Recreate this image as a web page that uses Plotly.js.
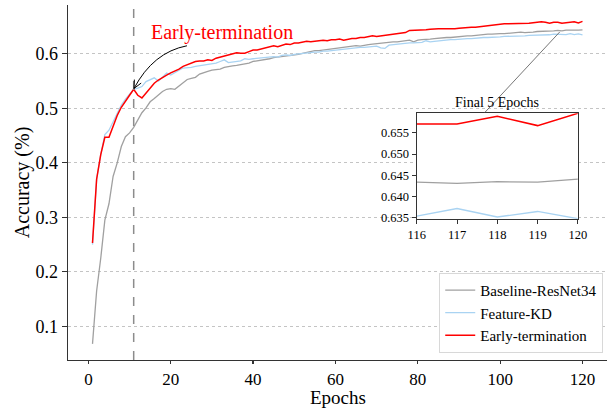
<!DOCTYPE html>
<html>
<head>
<meta charset="utf-8">
<script src="https://cdn.plot.ly/plotly-3.0.1.min.js"></script>
<style>html,body{margin:0;padding:0;background:#fff;}</style>
</head>
<body>
<div id="chart" style="width:611px;height:410px;"></div>
<script>
// Epochs 1..120
const epochs = Array.from({length: 120}, (_, i) => i + 1);

const baseline = [
0.068,0.165,0.225,0.295,0.325,0.375,0.400,0.430,0.448,0.455,
0.465,0.480,0.492,0.501,0.512,0.518,0.525,0.531,0.535,0.536,
0.535,0.541,0.548,0.553,0.555,0.557,0.563,0.566,0.568,0.570,
0.571,0.572,0.575,0.577,0.578,0.579,0.580,0.581,0.583,0.586,
0.587,0.588,0.590,0.591,0.593,0.594,0.594,0.595,0.596,0.597,
0.599,0.601,0.603,0.604,0.606,0.606,0.607,0.609,0.610,0.611,
0.611,0.612,0.613,0.614,0.615,0.614,0.616,0.617,0.618,0.619,
0.620,0.620,0.621,0.622,0.622,0.623,0.623,0.625,0.622,0.625,
0.626,0.626,0.627,0.628,0.629,0.630,0.630,0.630,0.631,0.632,
0.632,0.633,0.633,0.634,0.635,0.635,0.636,0.636,0.637,0.637,
0.637,0.638,0.638,0.639,0.640,0.639,0.639,0.640,0.641,0.641,
0.641,0.641,0.642,0.643,0.642,0.6434,0.6431,0.6435,0.6434,0.6441];

const featureKD = [
0.250,0.370,0.415,0.452,0.460,0.475,0.491,0.506,0.517,0.527,
0.535,0.537,0.540,0.549,0.553,0.556,0.550,0.558,0.565,0.561,
0.566,0.570,0.574,0.574,0.575,0.577,0.578,0.580,0.581,0.582,
0.583,0.586,0.589,0.584,0.585,0.586,0.587,0.591,0.590,0.591,
0.592,0.592,0.594,0.594,0.595,0.594,0.597,0.598,0.597,0.599,
0.600,0.600,0.601,0.602,0.603,0.603,0.605,0.605,0.606,0.607,
0.608,0.608,0.609,0.610,0.611,0.612,0.612,0.613,0.613,0.614,
0.611,0.610,0.616,0.617,0.618,0.619,0.620,0.620,0.620,0.621,
0.621,0.624,0.622,0.623,0.624,0.625,0.625,0.626,0.626,0.627,
0.627,0.628,0.628,0.629,0.630,0.630,0.630,0.630,0.631,0.631,
0.632,0.632,0.632,0.633,0.633,0.633,0.634,0.634,0.634,0.634,
0.635,0.635,0.636,0.636,0.635,0.6354,0.6372,0.6352,0.6365,0.6348];

const earlyTerm = [
0.253,0.370,0.415,0.447,0.447,0.468,0.487,0.502,0.514,0.524,
0.535,0.524,0.519,0.528,0.537,0.546,0.552,0.557,0.561,0.565,
0.568,0.572,0.577,0.580,0.583,0.586,0.587,0.587,0.589,0.588,
0.592,0.594,0.596,0.597,0.600,0.602,0.601,0.601,0.604,0.607,
0.607,0.609,0.611,0.614,0.615,0.613,0.616,0.618,0.617,0.620,
0.620,0.621,0.623,0.622,0.623,0.624,0.625,0.624,0.626,0.626,
0.627,0.625,0.627,0.628,0.628,0.630,0.630,0.631,0.633,0.632,
0.633,0.634,0.636,0.636,0.637,0.638,0.639,0.643,0.643,0.643,
0.643,0.644,0.645,0.646,0.646,0.646,0.646,0.645,0.646,0.647,
0.648,0.649,0.649,0.649,0.650,0.651,0.652,0.652,0.653,0.654,
0.655,0.655,0.655,0.655,0.656,0.656,0.656,0.657,0.658,0.659,
0.658,0.656,0.658,0.658,0.656,0.6571,0.6571,0.6589,0.6567,0.6596];

const seriesNames = ["Baseline-ResNet34", "Feature-KD", "Early-termination"];
const seriesColors = ["#a0a0a0", "#a9d3f2", "#ff0000"];
const seriesWidths = [1.3, 1.3, 1.5];
const seriesData = [baseline, featureKD, earlyTerm];

const xTickVals = [0, 20, 40, 60, 80, 100, 120];
const yTickVals = [0.1, 0.2, 0.3, 0.4, 0.5, 0.6];
const insetXTicks = [116, 117, 118, 119, 120];
const insetYTicks = [0.635, 0.640, 0.645, 0.650, 0.655];
const terminationEpoch = 11;
const lastN = 5;

const FONT = "Liberation Serif, Times New Roman, serif";

const traces = [];
seriesData.forEach((d, i) => {
  traces.push({
    x: epochs, y: d, type: "scatter", mode: "lines",
    name: seriesNames[i],
    line: {color: seriesColors[i], width: seriesWidths[i]},
    xaxis: "x", yaxis: "y"
  });
});
seriesData.forEach((d, i) => {
  traces.push({
    x: epochs.slice(-lastN), y: d.slice(-lastN), type: "scatter", mode: "lines",
    name: seriesNames[i], showlegend: false,
    line: {color: seriesColors[i], width: seriesWidths[i]},
    xaxis: "x2", yaxis: "y2"
  });
});

const insetY = seriesData.flatMap(d => d.slice(-lastN));
const insetMin = Math.min(...insetY), insetMax = Math.max(...insetY);

const layout = {
  width: 611, height: 410,
  margin: {l: 68, r: 4, t: 5, b: 50},
  paper_bgcolor: "#ffffff", plot_bgcolor: "#ffffff",
  font: {family: FONT, color: "#000"},
  showlegend: true,
  legend: {
    x: 0.993, y: 0.02, xanchor: "right", yanchor: "bottom",
    bgcolor: "#ffffff", bordercolor: "#d8d8d8", borderwidth: 1,
    font: {family: FONT, size: 15, color: "#000"},
    tracegroupgap: 0, itemwidth: 30
  },
  xaxis: {
    domain: [0, 1],
    range: [-4.95, 125.95],
    tickvals: xTickVals,
    ticks: "outside", ticklen: 3, tickwidth: 1.2, tickcolor: "#333",
    showline: true, linecolor: "#333", linewidth: 1.3,
    showgrid: false, zeroline: false, automargin: false,
    tickfont: {family: FONT, size: 17, color: "#000"}
  },
  yaxis: {
    domain: [0, 1],
    range: [0.0384, 0.6896],
    tickvals: yTickVals,
    ticktext: yTickVals.map(v => v.toFixed(1)),
    ticks: "outside", ticklen: 5, tickwidth: 1.2, tickcolor: "#333",
    showline: true, linecolor: "#333", linewidth: 1.3,
    showgrid: true, gridcolor: "#c4c4c4", gridwidth: 1, griddash: "dot",
    zeroline: false, automargin: false,
    tickfont: {family: FONT, size: 18, color: "#000"},
    title: {text: "Accuracy (%)", font: {family: FONT, size: 20, color: "#000"}, standoff: 0}
  },
  xaxis2: {
    domain: [0.647, 0.946], anchor: "y2",
    range: [insetXTicks[0], insetXTicks[insetXTicks.length - 1]],
    tickvals: insetXTicks,
    ticks: "outside", ticklen: 4, tickcolor: "#333",
    showline: true, mirror: true, linecolor: "#333", linewidth: 1.2,
    showgrid: false, zeroline: false,
    tickfont: {family: FONT, size: 12.5, color: "#000"}
  },
  yaxis2: {
    domain: [0.398, 0.695], anchor: "x2",
    range: [insetMin, insetMax],
    tickvals: insetYTicks,
    ticktext: insetYTicks.map(v => v.toFixed(3)),
    ticks: "outside", ticklen: 4, tickcolor: "#333",
    showline: true, mirror: true, linecolor: "#333", linewidth: 1.2,
    showgrid: false, zeroline: false,
    tickfont: {family: FONT, size: 12.5, color: "#000"}
  },
  shapes: [
    {type: "line", xref: "x", yref: "paper", x0: terminationEpoch, x1: terminationEpoch, y0: 0, y1: 1,
     line: {color: "#8c8c8c", width: 1.5, dash: "dash"}},
    {type: "line", xref: "x", yref: "y", x0: 114.5, y0: 0.6404, x1: 96.3, y1: 0.4926,
     line: {color: "#666", width: 0.9}},
    {type: "path", xref: "x", yref: "y",
     path: "M 23.94,0.6148 Q 15.74,0.6030 11.07,0.5364",
     line: {color: "#000", width: 1}},
    {type: "path", xref: "x", yref: "y",
     path: "M 12.82,0.5464 L 11.07,0.5364 L 11.17,0.5528",
     line: {color: "#000", width: 1}}
  ],
  annotations: [
    {xref: "x", yref: "y", x: 32.4, y: 0.6386, text: "Early-termination", showarrow: false,
     font: {family: FONT, size: 20, color: "#ff0000"}, xanchor: "center", yanchor: "middle"},
    {xref: "paper", yref: "paper", x: 0.7965, y: 0.700, text: "Final 5 Epochs", showarrow: false,
     font: {family: FONT, size: 14, color: "#000"}, xanchor: "center", yanchor: "bottom"},
    {xref: "paper", yref: "paper", x: 0.5, y: 0, yshift: -26, text: "Epochs", showarrow: false,
     font: {family: FONT, size: 19, color: "#000"}, xanchor: "center", yanchor: "top", borderpad: 0}
  ]
};

Plotly.newPlot("chart", traces, layout, {staticPlot: true, displayModeBar: false});
</script>
</body>
</html>
